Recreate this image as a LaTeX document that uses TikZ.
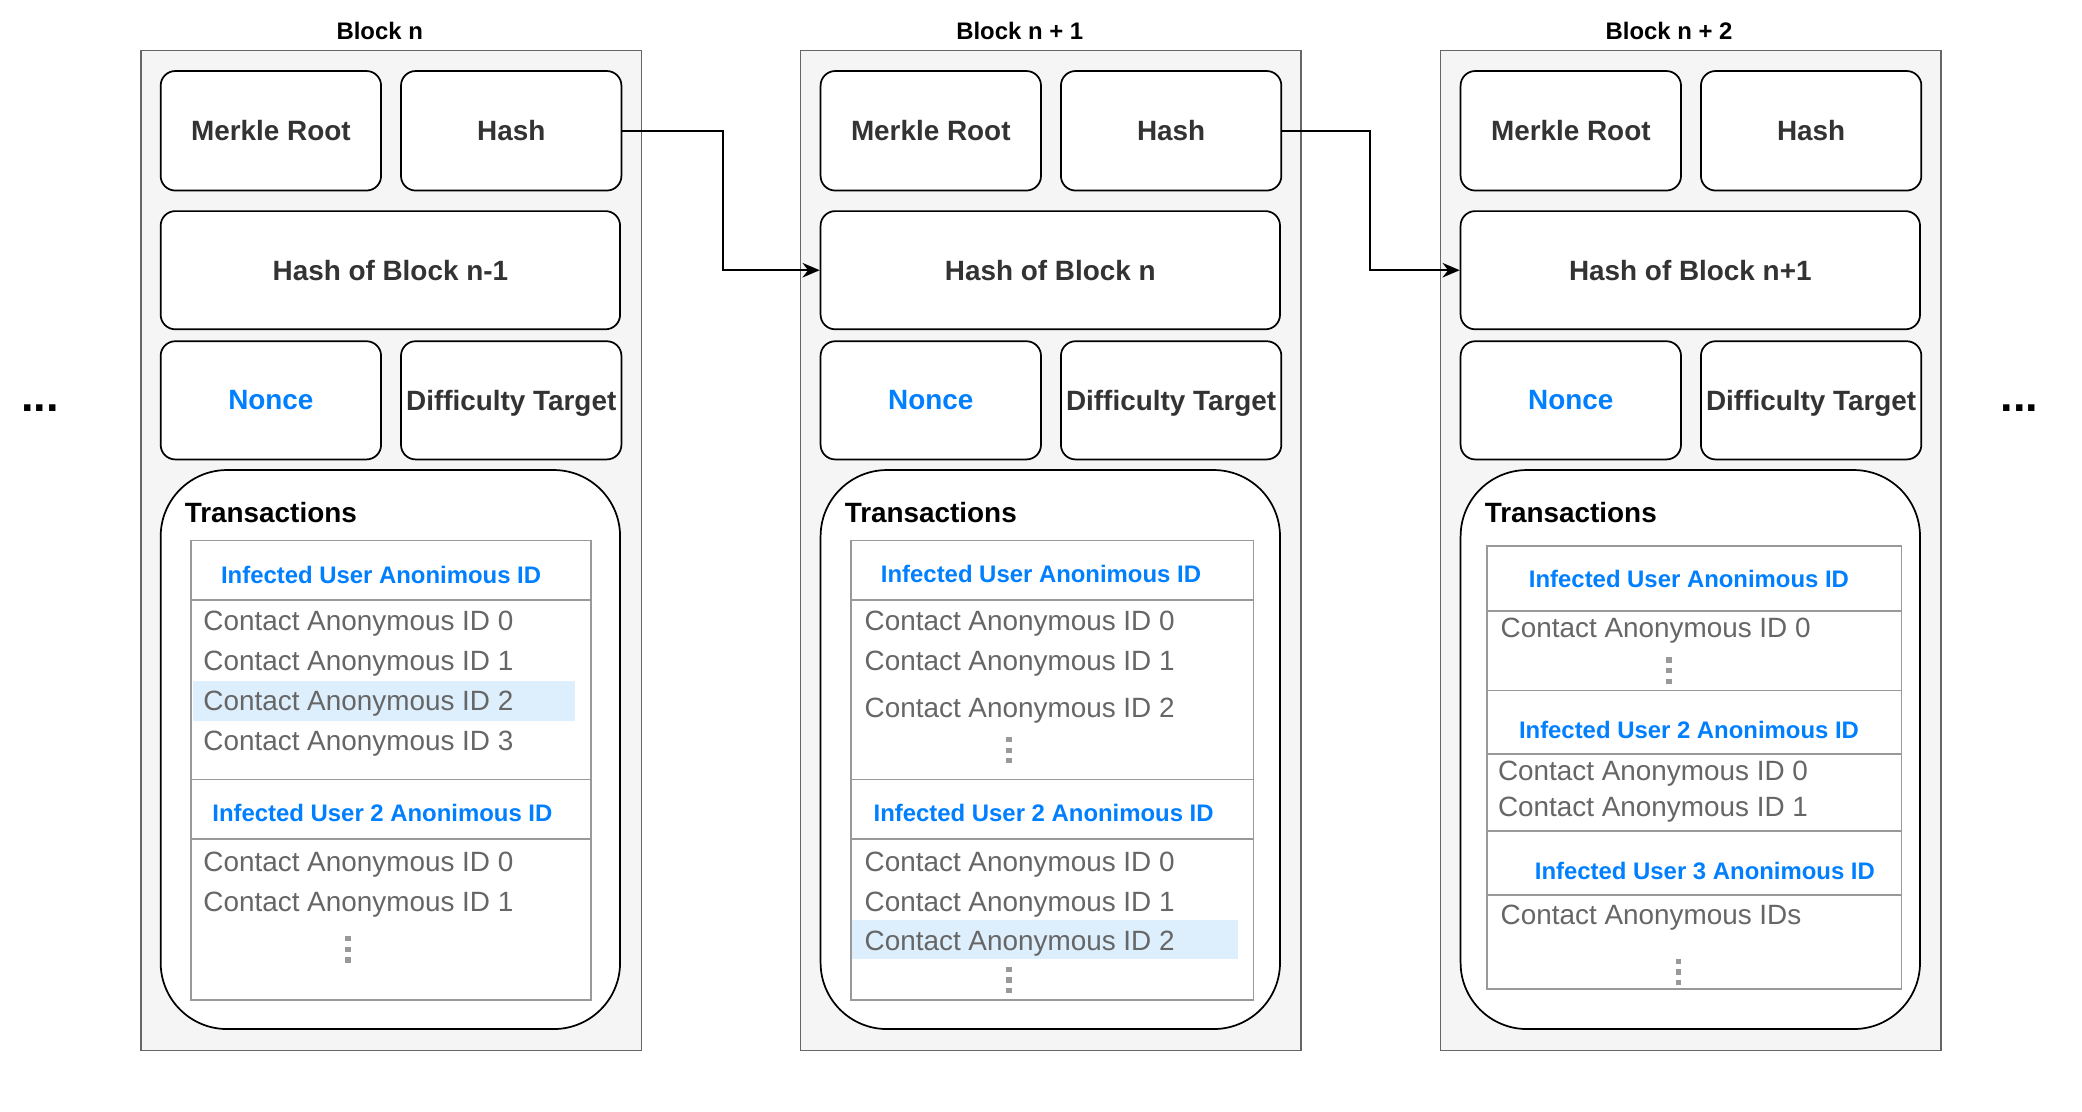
\documentclass[tikz,border=0pt]{standalone}
\usepackage{fontspec}
\setmainfont{Liberation Sans}
\usetikzlibrary{arrows.meta, positioning}
\definecolor{darktext}{HTML}{333333}
\definecolor{infblue}{HTML}{007FFF}
\definecolor{idgray}{HTML}{666666}
\definecolor{hilite}{HTML}{DDEEFC}
\tikzset{
  blockbox/.style={draw=idgray, fill=black!4, line width=1.2pt, minimum width=377pt, minimum height=753pt, inner sep=0pt},
  blocktitle/.style={font=\fontsize{18}{21}\selectfont\bfseries, text=black},
  field/.style={draw=black, fill=white, line width=1.3pt, rounded corners=11pt, inner sep=0pt, text depth=0pt, font=\fontsize{21}{25}\selectfont\bfseries, text=darktext},
  txbox/.style={draw=black, fill=white, line width=1.3pt, rounded corners=50pt, inner sep=0pt, minimum width=346pt, minimum height=421pt},
  tablebox/.style={draw=black!40, fill=white, line width=1.2pt, inner sep=0pt},
  tableline/.style={draw=black!40, line width=1.2pt},
  head/.style={font=\fontsize{18}{21}\selectfont\bfseries, text=infblue, inner sep=0pt},
  contact/.style={font=\fontsize{21}{25}\selectfont, text=idgray, anchor=west, inner sep=0pt, yshift=-2pt},
  more/.style={draw=black!40, line width=4pt, dash pattern=on 4pt off 4pt},
  link/.style={draw=black, line width=1.2pt, -{Stealth[length=13pt, width=11pt]}}
}
\begin{document}
\begin{tikzpicture}[x=1pt, y=-1pt]
\useasboundingbox (0,0) rectangle (1568,837);
% blocks
\foreach \L/\tx/\tl/\pl/\k in {106/286/Block n/Hash of Block n-1/1, 603/768/Block n + 1/Hash of Block n/2, 1085/1257/Block n + 2/Hash of Block n+1/3}{
  \node[blockbox] (block\k) at (\L+188.5,414.5) {};
  \node[blocktitle] (title\k) at (\tx,23) {\tl};
  \node[field, minimum width=166pt, minimum height=90pt] (merkle\k) at (\L+98,98.5) {Merkle Root};
  \node[field, minimum width=166pt, minimum height=90pt] (hash\k) at (\L+279,98.5) {Hash};
  \node[field, minimum width=346pt, minimum height=89pt] (prev\k) at (\L+188,203.5) {\pl};
  \node[field, minimum width=166pt, minimum height=89pt, text=infblue] (nonce\k) at (\L+98,301.5) {Nonce};
  \node[field, minimum width=166pt, minimum height=89pt] (diff\k) at (\L+279,301.5) {Difficulty Target};
  \node[txbox] (trans\k) at (\L+188,564.5) {};
  \node[font=\fontsize{21}{25}\selectfont\bfseries, anchor=west, inner sep=0pt] (txlabel\k) at (\L+33,386) {Transactions};
}
% links
\draw[link] (hash1.east) -- ++(76,0) |- (prev2.west);
\draw[link] (hash2.east) -- ++(66,0) |- (prev3.west);
% ellipses
\node[font=\fontsize{34}{36}\selectfont\bfseries, anchor=base] (dotsL) at (30,310) {...};
\node[font=\fontsize{34}{36}\selectfont\bfseries, anchor=base] (dotsR) at (1521,310) {...};

% transactions of block n
\node[tablebox, minimum width=301pt, minimum height=346pt] (tab1) at (294.5,580) {};
\fill[hilite] (145,513) rectangle (433,543);
\draw[tableline] (144,452) -- (445,452);
\draw[tableline] (144,587) -- (445,587);
\draw[tableline] (144,632) -- (445,632);
\node[head] (inf11) at (287,433) {Infected User Anonimous ID};
\node[contact] (c110) at (153,468) {Contact Anonymous ID 0};
\node[contact] (c111) at (153,498) {Contact Anonymous ID 1};
\node[contact] (c112) at (153,528) {Contact Anonymous ID 2};
\node[contact] (c113) at (153,558) {Contact Anonymous ID 3};
\node[head] (inf12) at (288,612) {Infected User 2 Anonimous ID};
\node[contact] (c120) at (153,649) {Contact Anonymous ID 0};
\node[contact] (c121) at (153,679) {Contact Anonymous ID 1};
\draw[more] (262,705) -- (262,725);

% transactions of block n + 1
\node[tablebox, minimum width=303pt, minimum height=346pt] (tab2) at (792.5,580) {};
\fill[hilite] (642,693) rectangle (932,722);
\draw[tableline] (641,452) -- (944,452);
\draw[tableline] (641,587) -- (944,587);
\draw[tableline] (641,632) -- (944,632);
\node[head] (inf21) at (784,432) {Infected User Anonimous ID};
\node[contact] (c210) at (651,468) {Contact Anonymous ID 0};
\node[contact] (c211) at (651,498) {Contact Anonymous ID 1};
\node[contact] (c212) at (651,533) {Contact Anonymous ID 2};
\draw[more] (760,555) -- (760,575);
\node[head] (inf22) at (786,612) {Infected User 2 Anonimous ID};
\node[contact] (c220) at (651,649) {Contact Anonymous ID 0};
\node[contact] (c221) at (651,679) {Contact Anonymous ID 1};
\node[contact] (c222) at (651,709) {Contact Anonymous ID 2};
\draw[more] (760,728) -- (760,748);

% transactions of block n + 2
\node[tablebox, minimum width=312pt, minimum height=334pt] (tab3) at (1276,578) {};
\draw[tableline] (1120,460) -- (1432,460);
\draw[tableline] (1120,520) -- (1432,520);
\draw[tableline] (1120,568) -- (1432,568);
\draw[tableline] (1120,626) -- (1432,626);
\draw[tableline] (1120,674) -- (1432,674);
\node[head] (inf31) at (1272,436) {Infected User Anonimous ID};
\node[contact] (c310) at (1130,473) {Contact Anonymous ID 0};
\draw[more] (1257,495) -- (1257,515);
\node[head] (inf32) at (1272,550) {Infected User 2 Anonimous ID};
\node[contact] (c320) at (1128,581) {Contact Anonymous ID 0};
\node[contact] (c321) at (1128,608) {Contact Anonymous ID 1};
\node[head] (inf33) at (1284,656) {Infected User 3 Anonimous ID};
\node[contact] (c33) at (1130,689) {Contact Anonymous IDs};
\draw[more] (1264,722) -- (1264,742);
\end{tikzpicture}
\end{document}
